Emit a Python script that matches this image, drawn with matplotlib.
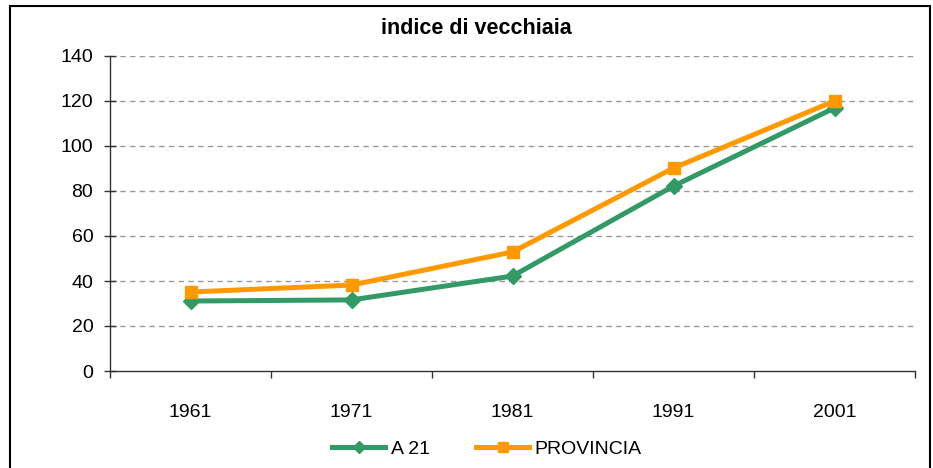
import matplotlib.pyplot as plt
from matplotlib.patches import Rectangle

plt.rcParams['font.family'] = ['Liberation Sans', 'DejaVu Sans']

# --- Data ---
years = ['1961', '1971', '1981', '1991', '2001']
a21 = [31.1, 31.6, 42.2, 82.2, 116.9]
provincia = [35.1, 38.2, 52.9, 90.2, 120.0]

W, H = 933, 468
fig = plt.figure(figsize=(W / 100, H / 100), dpi=100)
# plot area in pixels: x 110..915, y 56..371
ax = fig.add_axes([110 / W, 1 - 371 / H, 805 / W, 315 / H])

x = range(len(years))
ax.plot(x, a21, color='#339966', lw=3.6, marker='D', ms=8, label='A 21')
ax.plot(x, provincia, color='#FF9900', lw=3.6, marker='s', ms=9, label='PROVINCIA')

ax.set_xlim(-0.5, len(years) - 0.5)
ax.set_ylim(0, 140)
ax.set_yticks(range(0, 141, 20))
ax.set_xticks(x)
ax.set_xticklabels(years)
ax.set_xticks([i - 0.5 for i in range(len(years) + 1)], minor=True)
ax.tick_params(axis='x', which='major', length=0, pad=24, labelsize=14)
ax.tick_params(axis='x', which='minor', length=5, width=1, color='#333333')
ax.tick_params(axis='y', direction='inout', length=8, width=1, color='#333333',
               labelsize=14, pad=8)

for y in range(20, 141, 20):
    ax.axhline(y, color='#999999', lw=1, ls=(0, (4, 3)), zorder=0)

for s in ['top', 'right']:
    ax.spines[s].set_visible(False)
for s in ['left', 'bottom']:
    ax.spines[s].set_color('#333333')
    ax.spines[s].set_linewidth(1)

fig.text(476 / W, 1 - 28 / H, 'indice di vecchiaia', ha='center', va='center',
         fontsize=15.5, fontweight='bold')

fig.legend(loc='center', bbox_to_anchor=(487 / W, 1 - 449 / H), ncol=2,
           frameon=False, fontsize=14, handlelength=2.7, columnspacing=2.4,
           handletextpad=0.3, markerscale=0.8)

# outer chart frame
fig.add_artist(Rectangle((10 / W, -0.05), 920 / W, 1.05 - 6 / H,
                         transform=fig.transFigure, fill=False,
                         edgecolor='black', lw=1.5))

fig.savefig('out.png', dpi=100, facecolor='white')
